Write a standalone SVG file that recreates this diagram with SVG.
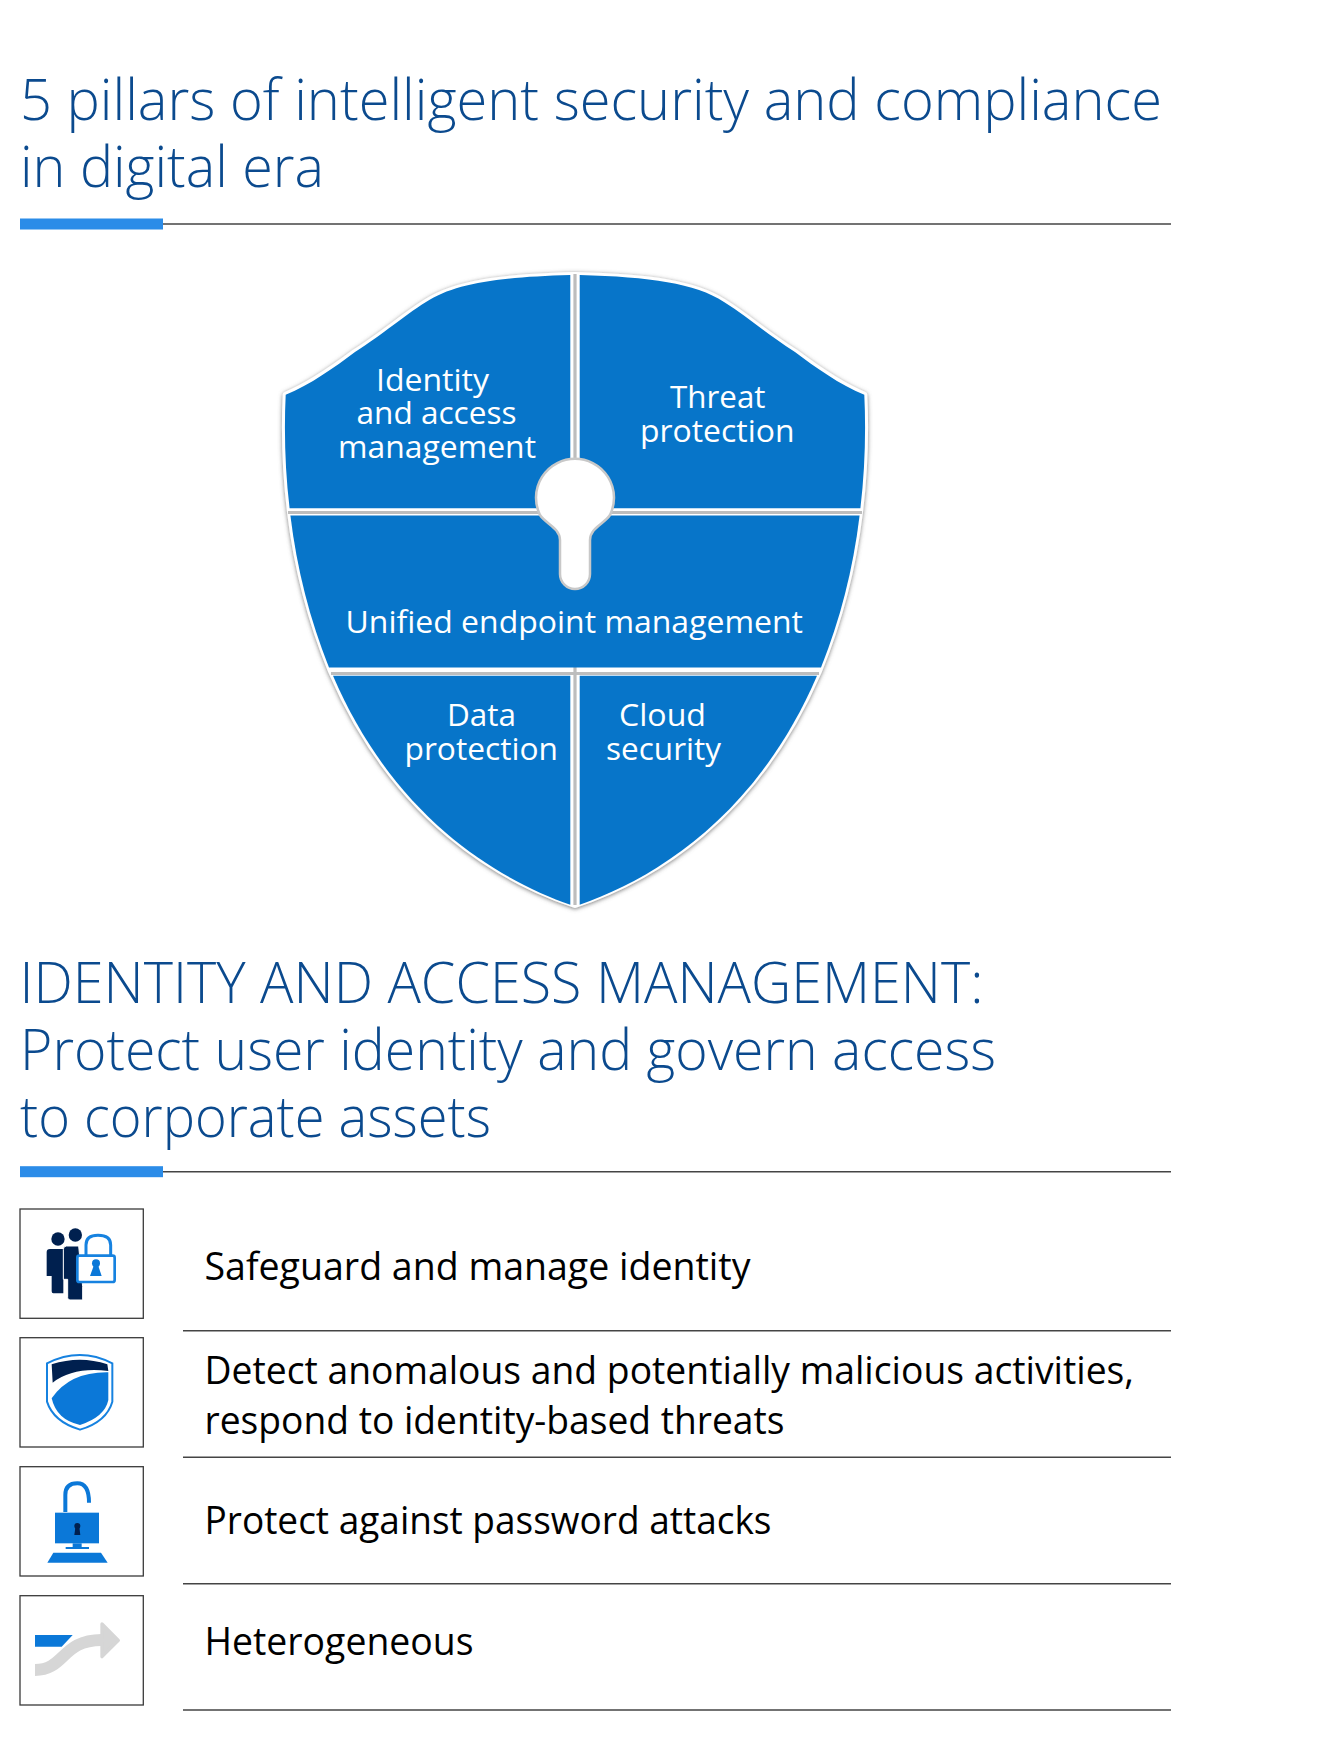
<svg xmlns="http://www.w3.org/2000/svg" width="1336" height="1748" viewBox="0 0 1336 1748">
<defs>
<filter id="sh" x="-5%" y="-5%" width="110%" height="110%"><feDropShadow dx="0" dy="1" stdDeviation="2" flood-color="#666" flood-opacity=".85"/></filter>
</defs>
<style>
.h{font-family:"Open Sans","Liberation Sans",sans-serif;font-weight:300;font-size:57px;fill:#0b4a8e}
.s{font-family:"Open Sans","Liberation Sans",sans-serif;font-size:31.500px;fill:#fff}
.l{font-family:"Open Sans","Liberation Sans",sans-serif;font-size:38px;fill:#000}
.seg{fill:#0775c9}
.rule{stroke:#444;stroke-width:1.6;fill:none}
.bar{fill:#2b8ce8}
.box{fill:#fff;stroke:#3a3a3a;stroke-width:1.3}
.navy{fill:#00204f}
.bl{fill:#0b78d8}
</style>
<rect width="1336" height="1748" fill="#fff"/>
<g id="title1">
<text class="h" x="20" y="120" textLength="1142" lengthAdjust="spacingAndGlyphs">5 pillars of intelligent security and compliance</text>
<text class="h" x="20" y="187" textLength="304" lengthAdjust="spacingAndGlyphs">in digital era</text>
</g>
<g id="connectors">
<line class="rule" x1="20" y1="224" x2="1171" y2="224"/>
<rect class="bar" x="20" y="218.500" width="143" height="11"/>
<line class="rule" x1="20" y1="1171.700" x2="1171" y2="1171.700"/>
<rect class="bar" x="20" y="1166.200" width="143" height="11"/>
<line class="rule" x1="183" y1="1330.700" x2="1171" y2="1330.700"/>
<line class="rule" x1="183" y1="1457.300" x2="1171" y2="1457.300"/>
<line class="rule" x1="183" y1="1583.700" x2="1171" y2="1583.700"/>
<line class="rule" x1="183" y1="1710" x2="1171" y2="1710"/>
</g>
<g id="shield-back">
<path filter="url(#sh)" d="M575 275 C500 277 455 283 426 302 C402 317 385 333 355 352 C335 367 310 385 285.700 394.700 C284 430 285 470 290 512 C297 570 310 620 331 671 C395 820 500 880 575 905 C650 880 755 820 819 671 C840 620 853 570 860 512 C865 470 866 430 864.300 394.700 C840 385 815 367 795 352 C765 333 748 317 724 302 C695 283 650 277 575 275 Z" fill="#fff" stroke="#fff" stroke-width="6" stroke-linejoin="round"/>
<path d="M575 274 V905 M288 512.500 H862 M331 673.500 H819" stroke="#bdbdbd" stroke-width="3.200" fill="none"/>
</g>
<g id="identity-access">
<path class="seg" d="M570.300 275 C500 277 455 283 426 302 C402 317 385 333 355 352 C335 367 310 385 285.700 394.700 C284 430 285 470 289.600 508.300 H570.300 Z"/>
<text class="s" x="376" y="390.500" textLength="113" lengthAdjust="spacingAndGlyphs">Identity</text>
<text class="s" x="356.500" y="424" textLength="160" lengthAdjust="spacingAndGlyphs">and access</text>
<text class="s" x="338" y="457.800" textLength="198" lengthAdjust="spacingAndGlyphs">management</text>
</g>
<g id="threat-protection">
<path class="seg" d="M579.700 275 C650 277 695 283 724 302 C748 317 765 333 795 352 C815 367 840 385 864.300 394.700 C866 430 865 470 860.400 508.300 H579.700 Z"/>
<text class="s" x="670" y="408" textLength="95.500" lengthAdjust="spacingAndGlyphs">Threat</text>
<text class="s" x="640" y="442" textLength="154.500" lengthAdjust="spacingAndGlyphs">protection</text>
</g>
<g id="unified-endpoint">
<path class="seg" d="M290.400 515.500 H859.600 C853 570 840 620 821 667.400 H329 C310 620 297 570 290.400 515.500 Z"/>
<text class="s" x="345.500" y="633" textLength="457.500" lengthAdjust="spacingAndGlyphs">Unified endpoint management</text>
</g>
<g id="data-protection">
<path class="seg" d="M333 675.800 H570.300 V904.800 C500 880 395 820 333 675.800 Z"/>
<text class="s" x="447" y="726" textLength="69" lengthAdjust="spacingAndGlyphs">Data</text>
<text class="s" x="404.500" y="759.600" textLength="153.500" lengthAdjust="spacingAndGlyphs">protection</text>
</g>
<g id="cloud-security">
<path class="seg" d="M579.700 904.800 V675.800 H817 C755 820 650 880 579.700 904.800 Z"/>
<text class="s" x="619" y="726" textLength="87" lengthAdjust="spacingAndGlyphs">Cloud</text>
<text class="s" x="606" y="759.600" textLength="115" lengthAdjust="spacingAndGlyphs">security</text>
</g>
<g id="keyhole">
<path d="M540 515 A39 39 0 1 1 610 515 C604 524 590 528 590 540 V574 A15 15 0 0 1 560 574 V540 C560 528 546 524 540 515 Z" fill="#fff" stroke="#c8c8c8" stroke-width="2.500"/>
</g>
<g id="title2">
<text class="h" x="19.500" y="1002.700" textLength="964" lengthAdjust="spacingAndGlyphs">IDENTITY AND ACCESS MANAGEMENT:</text>
<text class="h" x="20" y="1070" textLength="976" lengthAdjust="spacingAndGlyphs">Protect user identity and govern access</text>
<text class="h" x="20" y="1137" textLength="471" lengthAdjust="spacingAndGlyphs">to corporate assets</text>
</g>
<g id="item-identity">
<rect class="box" x="20" y="1209" width="123.300" height="109.300"/>
<g transform="translate(0 1190) scale(.33333)">
<circle class="navy" cx="174" cy="147" r="20"/>
<path class="navy" d="M150 177 H190 V310 H160 Q155 310 155 304 V258 H140 V186 Q140 177 150 177 Z"/>
<circle class="navy" cx="226" cy="135" r="20"/>
<path class="navy" d="M200 168 H236 L248 290 V330 H210 Q203 330 203 323 V268 H190 V178 Q190 168 200 168 Z" stroke="#fff" stroke-width="3"/>
<path d="M252 200 V165 Q252 134 290 134 Q335 134 335 165 V200" fill="#fff" stroke="#fff" stroke-width="14"/>
<path d="M258 197 V165 Q258 136 294 136 Q332 136 332 165 V197" fill="none" stroke="#1682e0" stroke-width="9"/>
<rect x="232" y="197" width="112" height="79" rx="6" fill="#fff" stroke="#1682e0" stroke-width="8"/>
<circle class="bl" cx="288" cy="220" r="12"/>
<path class="bl" d="M282 225 H294 L305 258 H270 Z"/>
</g>
<text class="l" x="204.500" y="1280.200" textLength="546" lengthAdjust="spacingAndGlyphs">Safeguard and manage identity</text>
</g>
<g id="item-detect">
<rect class="box" x="20" y="1337.700" width="123.300" height="109.300"/>
<g transform="translate(0 1190) scale(.33333)">
<path d="M141 520 Q240 470 337 520 V635 Q320 695 240 719 Q160 695 141 635 Z" fill="#fff" stroke="#1682e0" stroke-width="6"/>
<path class="navy" d="M155 523 Q240 495 322 523 L325 543 Q220 530 158 578 Z"/>
<path class="bl" d="M155 625 Q210 545 325 547 V630 Q315 680 240 705 Q170 690 155 625 Z"/>
</g>
<text class="l" x="204.500" y="1384" textLength="929.500" lengthAdjust="spacingAndGlyphs">Detect anomalous and potentially malicious activities,</text>
<text class="l" x="204.500" y="1434" textLength="580" lengthAdjust="spacingAndGlyphs">respond to identity-based threats</text>
</g>
<g id="item-password">
<rect class="box" x="20" y="1466.700" width="123.300" height="109.300"/>
<g transform="translate(0 1450) scale(.33333)">
<path d="M196 186 V135 Q196 100 232 100 Q267 100 267 158" fill="none" stroke="#0b78d8" stroke-width="12"/>
<rect class="bl" x="165" y="188" width="132" height="92"/>
<rect class="bl" x="218" y="280" width="27" height="12"/>
<rect class="bl" x="197" y="291" width="70" height="6"/>
<path class="bl" d="M160 308 H303 L323 338 H142 Z"/>
<circle class="navy" cx="232" cy="228" r="9"/>
<path class="navy" d="M226 232 H238 L241 255 H223 Z"/>
</g>
<text class="l" x="204.500" y="1534" textLength="567" lengthAdjust="spacingAndGlyphs">Protect against password attacks</text>
</g>
<g id="item-heterogeneous">
<rect class="box" x="20" y="1595.700" width="123.300" height="109.300"/>
<g transform="translate(0 1450) scale(.33333)">
<path class="bl" d="M105 555 H218 L185 590 H105 Z"/>
<path d="M105 660 C195 660 185 570 305 570" fill="none" stroke="#d6d6d6" stroke-width="36"/>
<path d="M306 522 L355 571 L306 620 Z" fill="#d6d6d6" stroke="#d6d6d6" stroke-width="10" stroke-linejoin="round"/>
</g>
<text class="l" x="204.500" y="1655" textLength="269" lengthAdjust="spacingAndGlyphs">Heterogeneous</text>
</g>
</svg>
